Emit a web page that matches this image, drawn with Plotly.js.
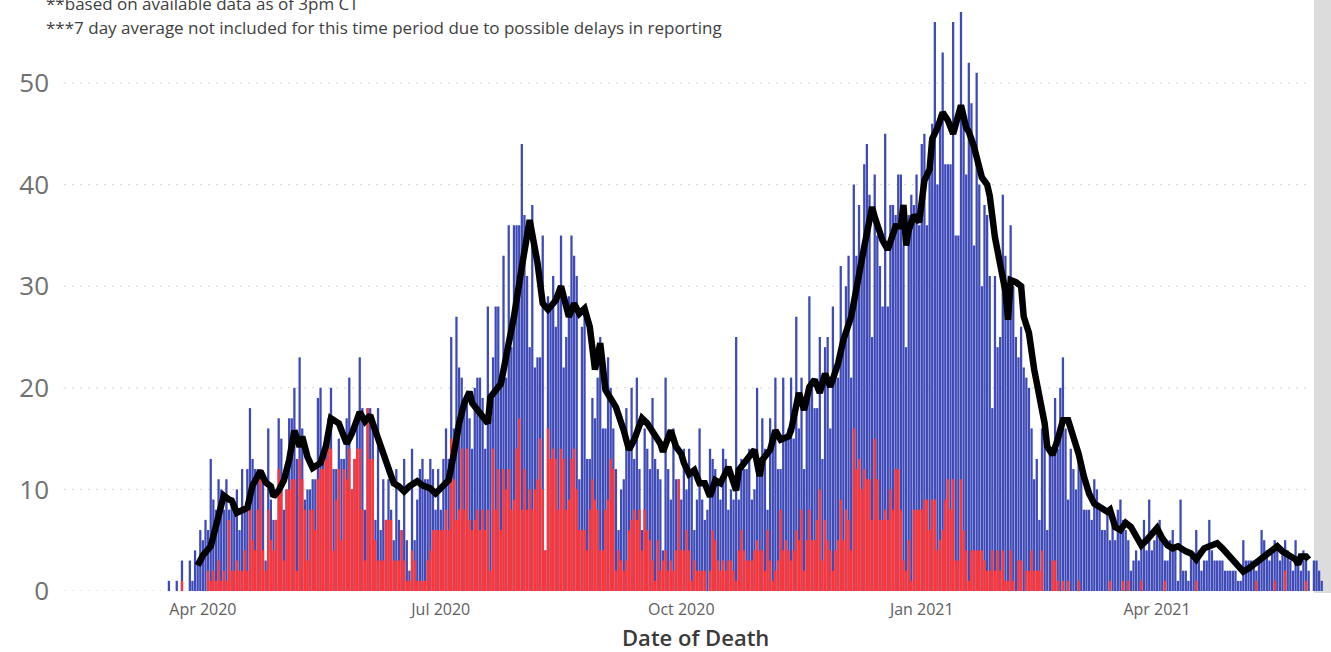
<!DOCTYPE html>
<html><head><meta charset="utf-8">
<script src="https://cdn.plot.ly/plotly-3.0.1.min.js"></script>
<style>html,body{margin:0;padding:0;background:#fff;overflow:hidden}#chart{width:1331px;height:652px}</style>
</head><body><div id="chart"></div>
<script>
// ---- data ----
const startDate = '2020-03-19';
const totalDeaths = [
1,0,0,1,0,3,0,0,3,1,4,3,6,5,7,6,13,9,8,11,10,8,11,8,9,8,10,6,12,8,12,18,13,12,12,12,11,3,
16,9,7,7,17,15,8,10,17,17,20,13,23,16,9,10,10,11,11,19,20,13,15,17,20,12,12,15,13,13,17,21,10,13,17,23,18,8,18,
18,16,7,18,6,11,7,11,8,5,12,7,6,13,5,2,14,5,9,12,13,11,11,13,12,8,12,8,13,16,13,25,16,27,22,21,18,19,17,14,20,21,
21,19,14,28,17,23,28,28,21,33,21,36,24,36,36,36,44,37,31,24,38,22,23,23,35,4,29,28,31,26,29,35,22,25,29,35,33,31,11,26,
28,13,13,19,17,21,25,16,16,23,20,16,12,6,10,11,18,14,20,13,21,12,6,16,14,12,19,13,12,11,4,21,12,9,16,11,11,9,14,
10,
14,12,6,9,16,9,7,8,14,13,12,11,9,14,13,8,10,9,25,9,13,12,12,14,9,10,20,13,17,14,8,17,15,21,12,12,21,15,16,
21,15,
27,16,21,12,18,29,20,18,18,25,13,24,25,16,28,22,21,32,24,30,33,21,40,33,38,33,42,44,39,25,41,35,32,28,45,28,38,38,37,41,
41,34,24,37,39,38,41,36,44,45,36,43,46,56,40,47,53,42,42,42,56,35,35,57,47,41,52,48,34,51,40,30,38,37,31,18,31,24,25,39,
33,27,36,30,25,23,26,22,21,20,16,11,13,7,16,15,6,14,14,19,14,20,23,16,9,14,12,10,13,12,8,8,8,7,11,10,8,6,6,8,
5,7,5,8,9,7,6,5,2,3,4,3,5,7,4,9,4,5,6,7,5,3,3,5,6,4,1,9,2,2,1,4,3,6,4,2,3,3,7,4,
3,3,3,3,2,2,2,2,2,1,1,5,3,3,3,3,2,3,6,5,4,3,4,5,4,3,4,5,4,3,2,5,3,2,4,3,2,0,3,3,2,1
];
const redDeaths = [
0,0,0,0,0,1,0,0,0,0,0,0,0,0,0,2,1,2,1,3,1,2,1,7,2,2,3,2,2,4,2,8,5,4,8,12,4,2,
8,5,4,7,12,11,3,10,10,11,11,2,13,11,8,3,8,8,6,11,12,12,13,15,14,4,9,12,5,12,11,14,10,13,14,14,8,3,18,
13,13,5,3,3,3,7,7,7,3,3,3,6,3,1,1,4,3,1,1,1,1,3,4,6,6,6,6,6,8,6,15,11,7,8,14,8,14,7,6,7,8,
6,8,6,8,2,14,8,12,6,12,10,12,8,9,14,17,8,12,8,10,8,10,11,15,10,4,16,13,14,13,8,14,13,8,9,13,14,10,6,6,
6,4,8,11,9,8,4,4,8,9,13,12,2,4,3,2,3,6,7,8,7,8,4,8,6,5,3,1,5,2,3,4,2,3,2,4,11,4,4,
6,
4,1,3,2,2,2,2,0,2,6,5,3,2,3,2,3,3,2,1,4,6,4,3,3,3,4,5,4,4,2,6,3,1,2,3,8,4,5,4,
3,4,
6,5,8,2,5,8,5,5,7,10,3,7,5,4,2,4,5,9,5,8,7,4,16,12,13,10,12,11,11,7,15,11,7,7,8,7,10,8,12,12,
8,3,2,5,1,8,8,8,8,9,9,6,9,9,4,5,6,9,11,8,11,3,3,11,6,4,1,4,4,4,4,4,3,2,2,4,2,4,2,4,
1,1,4,1,0,3,3,0,2,2,4,2,2,2,4,0,0,0,3,3,1,0,1,0,1,0,0,0,1,0,0,0,0,0,0,0,0,0,0,0,
1,0,0,0,0,1,0,1,0,0,0,0,1,0,0,0,0,0,0,0,0,1,0,0,0,0,0,0,0,0,0,0,0,1,0,0,0,0,0,0,
0,0,0,0,0,0,0,0,0,0,0,0,0,0,0,0,1,0,0,0,0,0,0,1,0,0,0,2,0,0,0,0,0,0,0,1,0,0,0,0,0,0
];
// 7-day average: day offset from startDate, value
const avgDay = [11,13,16,19,21,23,24,26,30,32,35,37,39,40,42,44,46,48,50,51,53,55,58,60,62,65,68,70,73,75,77,78,80,82,84,86,88,90,92,95,97,100,102,105,107,109,111,113,115,116,118,120,122,123,127,130,132,135,137,138,141,143,145,146,148,150,152,153,155,157,159,161,163,165,167,169,171,174,176,178,181,183,185,188,189,192,194,196,197,199,201,203,205,207,209,211,214,217,218,220,224,226,227,230,232,234,237,238,240,241,243,245,247,249,251,253,256,258,261,263,266,268,269,270,271,273,275,277,278,280,281,282,283,285,287,289,291,292,294,296,298,300,302,303,305,306,308,310,311,313,314,316,318,320,321,322,324,326,327,329,331,333,335,336,338,340,342,344,346,348,350,352,354,357,359,360,362,364,366,368,370,372,374,376,378,380,382,384,386,389,391,393,395,396,398,401,403,406,408,411,413,415,417,420,422,424,426,429,431,432,433,435,436];
const avgValue = [2.5,3.5,4.4,7.7,9.4,9,8.9,7.7,8.2,10.4,11.8,10.7,10.3,9.3,9.9,10.9,12.9,15.8,14.2,15.2,13.2,12.1,12.6,14.2,17,16.5,14.5,15.5,17.6,16.7,17.3,16.5,14.9,13.5,11.9,10.6,10.3,9.8,10.3,10.8,10.4,10.1,9.6,10.3,10.9,13.5,16.5,18.5,19.6,18.5,17.8,17.2,16.5,19.1,20.4,24.4,27,31.9,34.9,36.5,32.3,28.3,27.7,28,28.6,30,27.7,27,28.3,27.3,27.8,26,21.8,24.4,19.8,18.8,18.1,15.8,13.9,14.9,17,16.5,15.8,14.5,13.7,15.8,14.2,13.5,12.6,11.5,11.9,10.6,10.6,9.3,10.9,10.6,12.2,9.9,11.9,12.6,13.9,11.3,12.9,13.9,15.8,14.9,15.2,15.8,18.8,19.5,17.8,20.1,20.8,19.5,21.4,20.1,22.4,24.7,27,30,33.9,36.5,37.8,36.8,35.9,34.5,33.6,35.2,35.9,35.9,38,34,35.5,37,36.3,40.4,41.5,44.5,45.6,47.1,46.3,45,46.7,47.8,45.6,45.2,43.7,41.9,40.7,40,38.9,34.8,32,29.5,26.7,30.6,30.4,30,27,25.4,21.8,19.1,16.5,14.2,13.4,14.9,16.8,16.8,15.2,13.5,11.3,9.6,8.6,8.1,7.8,8,6.3,6,6.7,6.3,5.4,4.5,5,5.5,6.2,5.2,4.5,4.2,4.4,3.9,3.7,3.1,3.7,4.2,4.4,4.7,4.2,3.4,2.7,1.9,2.2,2.6,3.1,3.5,3.9,4.4,3.9,3.4,3.1,2.6,3.4,3.4,3.1];
const yTickVals = [0,10,20,30,40,50];
const yTickText = ['0','10','20','30','40','50'];
const xTickVals = ['2020-04-01','2020-07-01','2020-10-01','2021-01-01','2021-04-01'];
const xTickText = ['Apr 2020','Jul 2020','Oct 2020','Jan 2021','Apr 2021'];
const xTitle = 'Date of Death';
const notes = ['**based on available data as of 3pm CT',
               '***7 day average not included for this time period due to possible delays in reporting'];

// ---- helpers ----
const MS_DAY = 86400000;
const start = Date.parse(startDate + 'T00:00:00Z');
function fmt(ms){ return new Date(ms).toISOString().slice(0,19).replace('T',' '); }
function dayDate(n){ return fmt(start + n*MS_DAY); }
const barDates = totalDeaths.map((_, i) => dayDate(i));
const avgDates = avgDay.map(dayDate);

// ---- geometry ----
const W = 1331, H = 652;
const L = 62, R = 3, T = 0, B = 61;
const plotW = W - L - R, plotH = H - T - B;
const pxX = px => (px - L) / plotW;
const pxY = py => 1 - (py - T) / plotH;

const FONT = 'Open Sans, Noto Sans, Liberation Sans, sans-serif';

const shapes = [
  {type:'rect', xref:'paper', yref:'paper', x0:pxX(1314), x1:pxX(1332), y0:pxY(593), y1:pxY(-2),
   fillcolor:'#dcdcdc', line:{width:0}, layer:'below'}
].concat(yTickVals.map(v => ({
  type:'line', xref:'paper', yref:'y', x0:pxX(64), x1:pxX(1312), y0:v, y1:v,
  line:{color:'#d4d4d4', width:1, dash:'2px,6px'}, layer:'below'
})));

const data = [
  {type:'bar', x:barDates, y:totalDeaths, marker:{color:'#3e4ab8', line:{width:0}}, hoverinfo:'skip'},
  {type:'bar', x:barDates, y:redDeaths, marker:{color:'#ff3535', line:{width:0}}, hoverinfo:'skip'},
  {type:'scatter', mode:'lines', x:avgDates, y:avgValue, line:{color:'#000000', width:6.5, shape:'linear'}, hoverinfo:'skip'}
];

const layout = {
  width:W, height:H,
  margin:{l:L, r:R, t:T, b:B, pad:0},
  paper_bgcolor:'#ffffff', plot_bgcolor:'rgba(0,0,0,0)',
  showlegend:false, barmode:'overlay', bargap:0.13,
  font:{family:FONT, color:'#666'},
  xaxis:{
    type:'date', range:[fmt(start - 40.9*MS_DAY), fmt(start + 443.4*MS_DAY)],
    tickmode:'array', tickvals:xTickVals, ticktext:xTickText,
    tickfont:{family:FONT, size:16, color:'#606060'},
    showgrid:false, zeroline:false, showline:false, ticks:'', ticklabelstandoff:7,
    automargin:false, fixedrange:true
  },
  yaxis:{
    range:[0, plotH/10.16],
    tickmode:'array', tickvals:yTickVals, ticktext:yTickText,
    tickfont:{family:FONT, size:26, color:'#707070'},
    showgrid:false, zeroline:false, showline:false, ticks:'', ticklabelstandoff:12,
    automargin:false, fixedrange:true
  },
  shapes:shapes,
  annotations:[
    {text:notes[0], xref:'paper', yref:'paper', x:pxX(44), y:pxY(3), xanchor:'left', yanchor:'middle',
     showarrow:false, font:{family:FONT, size:17, color:'#404040'}},
    {text:notes[1], xref:'paper', yref:'paper', x:pxX(44), y:pxY(27), xanchor:'left', yanchor:'middle',
     showarrow:false, font:{family:FONT, size:17, color:'#404040'}},
    {text:xTitle, xref:'paper', yref:'paper', x:0.5, y:pxY(637), xanchor:'center', yanchor:'middle',
     showarrow:false, font:{family:FONT, size:22, color:'#3a3a3a', weight:600}}
  ]
};

Plotly.newPlot('chart', data, layout, {staticPlot:true, displayModeBar:false});
</script>
</body></html>
